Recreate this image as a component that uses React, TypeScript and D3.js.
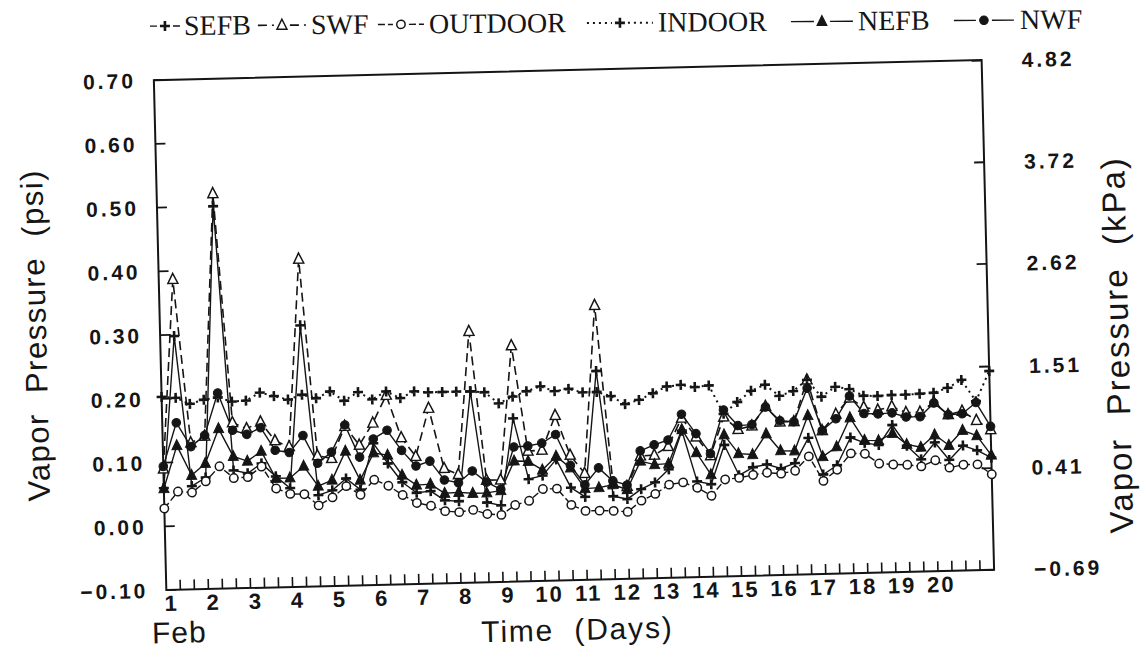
import React from 'react';
import * as d3 from 'd3';

// ---------- data (psi), 3 readings per day, Feb 1 - Feb 20 ----------
const dayLabels = ['1','2','3','4','5','6','7','8','9','10','11','12','13','14','15','16','17','18','19','20'];
const psiTicks = [-0.1, 0, 0.1, 0.2, 0.3, 0.4, 0.5, 0.6, 0.7];
const kPaTicks = [-0.69, 0.41, 1.51, 2.62, 3.72, 4.82];

const SEFB = [0.060,0.298,0.062,0.075,0.500,0.085,0.080,0.095,0.074,0.055,0.310,0.043,0.050,0.068,0.050,0.122,0.090,0.060,0.043,
  0.045,0.030,0.028,0.200,0.025,0.020,0.156,0.060,0.065,0.090,0.045,0.030,0.227,0.030,0.025,0.040,0.050,0.070,0.130,0.050,
  0.045,0.106,0.058,0.070,0.074,0.067,0.075,0.114,0.056,0.070,0.113,0.104,0.100,0.131,0.098,0.076,0.102,0.074,0.096,0.088,0.076];
const SWF = [0.090,0.387,0.130,0.140,0.520,0.160,0.150,0.160,0.130,0.120,0.414,0.105,0.100,0.150,0.120,0.154,0.197,0.130,0.100,
  0.175,0.080,0.070,0.294,0.060,0.060,0.270,0.104,0.105,0.159,0.096,0.067,0.330,0.050,0.045,0.092,0.093,0.106,0.150,0.120,
  0.090,0.150,0.130,0.135,0.165,0.140,0.140,0.205,0.125,0.150,0.175,0.160,0.155,0.160,0.150,0.150,0.165,0.145,0.150,0.135,0.120];
const OUTDOOR = [0.028,0.054,0.052,0.069,0.092,0.073,0.074,0.090,0.055,0.046,0.045,0.027,0.039,0.056,0.042,0.065,0.055,0.040,0.027,0.022,
  0.013,0.011,0.014,0.007,0.005,0.020,0.026,0.044,0.044,0.018,0.008,0.008,0.007,0.005,0.022,0.032,0.046,0.049,0.040,0.027,
  0.052,0.054,0.058,0.061,0.059,0.063,0.085,0.046,0.063,0.088,0.087,0.071,0.069,0.068,0.065,0.074,0.062,0.066,0.066,0.050];
const INDOOR = [0.203,0.201,0.191,0.197,0.200,0.193,0.194,0.206,0.200,0.194,0.201,0.195,0.205,0.190,0.203,0.191,0.203,0.192,0.202,0.200,
  0.200,0.200,0.200,0.198,0.180,0.190,0.198,0.205,0.197,0.200,0.194,0.194,0.187,0.174,0.180,0.190,0.200,0.202,0.198,0.200,
  0.155,0.173,0.190,0.199,0.181,0.188,0.205,0.178,0.193,0.189,0.178,0.177,0.178,0.178,0.179,0.180,0.187,0.199,0.165,0.212];
const NEFB = [0.059,0.126,0.079,0.097,0.151,0.107,0.099,0.114,0.071,0.071,0.089,0.057,0.066,0.111,0.065,0.107,0.103,0.071,0.055,
  0.056,0.041,0.042,0.040,0.040,0.043,0.089,0.088,0.074,0.095,0.076,0.043,0.044,0.048,0.040,0.084,0.078,0.079,0.132,0.095,
  0.060,0.122,0.092,0.090,0.122,0.095,0.094,0.149,0.084,0.099,0.144,0.108,0.107,0.118,0.100,0.095,0.114,0.097,0.120,0.111,0.080];
const NWF = [0.094,0.162,0.124,0.141,0.207,0.148,0.141,0.151,0.115,0.111,0.137,0.093,0.110,0.152,0.101,0.129,0.142,0.110,0.085,
  0.092,0.062,0.057,0.075,0.057,0.045,0.111,0.112,0.116,0.129,0.080,0.049,0.075,0.054,0.047,0.100,0.109,0.116,0.156,0.125,
  0.093,0.161,0.136,0.137,0.164,0.142,0.140,0.192,0.125,0.143,0.178,0.150,0.149,0.150,0.143,0.143,0.164,0.145,0.146,0.163,0.125];

const seriesNames = ['SEFB', 'SWF', 'OUTDOOR', 'INDOOR', 'NEFB', 'NWF'];

// ---------- layout ----------
const W = 1146, H = 665;
const L = 160, R = 988, T = 70, B = 580;
const INK = '#151515';
const SANS = '"Liberation Sans", Arial, Helvetica, sans-serif';
const SERIF = '"Liberation Serif", "Times New Roman", serif';

type Marker = 'plus' | 'tri' | 'circle' | 'ftri' | 'fcircle';
const styles: Record<string, { dash: string; marker: Marker; width: number }> = {
  SEFB: { dash: 'none', marker: 'plus', width: 1.4 },
  SWF: { dash: '9,5', marker: 'tri', width: 1.6 },
  OUTDOOR: { dash: '7,3', marker: 'circle', width: 1.4 },
  INDOOR: { dash: '2,4', marker: 'plus', width: 2 },
  NEFB: { dash: 'none', marker: 'ftri', width: 1.4 },
  NWF: { dash: 'none', marker: 'fcircle', width: 1.4 },
};
const dataOf: Record<string, number[]> = { SEFB, SWF, OUTDOOR, INDOOR, NEFB, NWF };

function MarkerShape({ kind, cx, cy }: { kind: Marker; cx: number; cy: number }) {
  switch (kind) {
    case 'plus':
      return <path d={`M${cx - 5},${cy}H${cx + 5}M${cx},${cy - 5}V${cy + 5}`} stroke={INK} strokeWidth={2.6} fill="none" />;
    case 'tri':
      return <path d={`M${cx},${cy - 6}L${cx + 5},${cy + 4}L${cx - 5},${cy + 4}Z`} stroke={INK} strokeWidth={1.5} fill="#fff" />;
    case 'ftri':
      return <path d={`M${cx},${cy - 6}L${cx + 5},${cy + 4}L${cx - 5},${cy + 4}Z`} stroke={INK} strokeWidth={1} fill={INK} />;
    case 'circle':
      return <circle cx={cx} cy={cy} r={4.2} stroke={INK} strokeWidth={1.5} fill="#fff" />;
    case 'fcircle':
      return <circle cx={cx} cy={cy} r={4.3} stroke={INK} strokeWidth={1} fill={INK} />;
  }
}

// legend item positions (symbol centre, symbol width, text start)
const legendPos: Record<string, { sym: number; w: number; text: number }> = {
  SEFB: { sym: 165, w: 30, text: 184 },
  SWF: { sym: 282, w: 48, text: 311 },
  OUTDOOR: { sym: 401, w: 46, text: 429 },
  INDOOR: { sym: 620, w: 66, text: 658 },
  NEFB: { sym: 822, w: 62, text: 858 },
  NWF: { sym: 984, w: 60, text: 1020 },
};

export default function App() {
  const x = d3.scaleLinear().domain([0, 59]).range([L, R]);
  const y = d3.scaleLinear().domain([-0.1, 0.7]).range([B, T]);
  const yk = d3.scaleLinear().domain([-0.1 * 6.895, 0.7 * 6.895]).range([B, T]);
  // day labels were typeset with their own spacing (two-digit days packed tighter)
  const dayX = d3.scaleLinear().domain([1, 9, 10, 20]).range([x(0) + 5, x(24) + 5, x(27) + 4, x(57) - 25]);
  const line = d3.line<number>().x((_, i) => x(i)).y((d) => y(d));
  const fmt = d3.format('.2f');
  const legendY = 32;

  return (
    <svg width={W} height={H} viewBox={`0 0 ${W} ${H}`} style={{ position: 'absolute', left: 0, top: 0, background: '#fff' }}>
      <rect width={W} height={H} fill="#fff" />
      {/* legend */}
      <g transform="rotate(-0.4 600 32)">
        {seriesNames.map((n) => {
          const p = legendPos[n];
          const s = styles[n];
          const half = p.w / 2;
          const ly = legendY - 9;
          return (
            <g key={n}>
              <line x1={p.sym - half} x2={p.sym - 8} y1={ly} y2={ly} stroke={INK} strokeWidth={s.width} strokeDasharray={s.dash === 'none' ? undefined : s.dash} />
              <line x1={p.sym + 8} x2={p.sym + half} y1={ly} y2={ly} stroke={INK} strokeWidth={s.width} strokeDasharray={s.dash === 'none' ? undefined : s.dash} />
              <MarkerShape kind={s.marker} cx={p.sym} cy={ly} />
              <text x={p.text} y={legendY} fontFamily={SERIF} fontSize={28} fill={INK}>{n}</text>
            </g>
          );
        })}
      </g>
      <g transform="rotate(-1.4 574 326)">
        {/* frame */}
        <rect x={L} y={T} width={R - L} height={B - T} fill="none" stroke={INK} strokeWidth={2} />

        {/* left ticks + labels */}
        {psiTicks.map((t) => (
          <g key={'l' + t}>
            <line x1={L} x2={L + 10} y1={y(t)} y2={y(t)} stroke={INK} strokeWidth={1.8} />
            <text x={L - 18} y={y(t)} dy="0.36em" textAnchor="end" fontFamily={SANS} fontWeight="bold" fontSize={21} letterSpacing={3} fill={INK}>
              {fmt(t)}
            </text>
          </g>
        ))}

        {/* right ticks + labels */}
        {kPaTicks.map((t) => (
          <g key={'r' + t}>
            <line x1={R - 10} x2={R} y1={yk(t)} y2={yk(t)} stroke={INK} strokeWidth={1.8} />
            <text x={R + 40} y={yk(t)} dy="0.36em" textAnchor="start" fontFamily={SANS} fontWeight="bold" fontSize={21} letterSpacing={3} fill={INK}>
              {fmt(t)}
            </text>
          </g>
        ))}

        {/* bottom ticks: one per reading */}
        {d3.range(1, 59).map((i) => (
          <line key={'b' + i} x1={x(i)} x2={x(i)} y1={B} y2={B - 10} stroke={INK} strokeWidth={1.6} />
        ))}
        {dayLabels.map((d, k) => (
          <text key={'d' + d} x={dayX(k + 1)} y={601} textAnchor="middle" fontFamily={SANS} fontWeight="bold" fontSize={22} letterSpacing={2} fill={INK}>
            {d}
          </text>
        ))}

        {/* axis titles */}
        <text transform={`translate(46,322) rotate(-90)`} textAnchor="middle" fontFamily={SANS} fontSize={31} letterSpacing={1.5} fill={INK}>
          {'Vapor\u00a0\u00a0Pressure\u00a0\u00a0(psi)'}
        </text>
        <text transform={`translate(1128,358) rotate(-90)`} textAnchor="middle" fontFamily={SANS} fontSize={33} letterSpacing={2} fill={INK}>
          {'Vapor\u00a0\u00a0Pressure\u00a0\u00a0(kPa)'}
        </text>
        <text x={172} y={633} textAnchor="middle" fontFamily={SANS} fontSize={30} letterSpacing={1} fill={INK}>Feb</text>
        <text x={570} y={640} textAnchor="middle" fontFamily={SANS} fontSize={30} letterSpacing={1.8} fill={INK}>
          {'Time\u00a0\u00a0(Days)'}
        </text>

        {/* series lines */}
        {seriesNames.map((n) => (
          <path key={'p' + n} d={line(dataOf[n]) || ''} fill="none" stroke={INK} strokeWidth={styles[n].width}
            strokeDasharray={styles[n].dash === 'none' ? undefined : styles[n].dash} strokeLinejoin="round" />
        ))}
        {/* markers */}
        {seriesNames.map((n) => (
          <g key={'m' + n}>
            {dataOf[n].map((v, i) => (
              <MarkerShape key={i} kind={styles[n].marker} cx={x(i)} cy={y(v)} />
            ))}
          </g>
        ))}
      </g>
    </svg>
  );
}
